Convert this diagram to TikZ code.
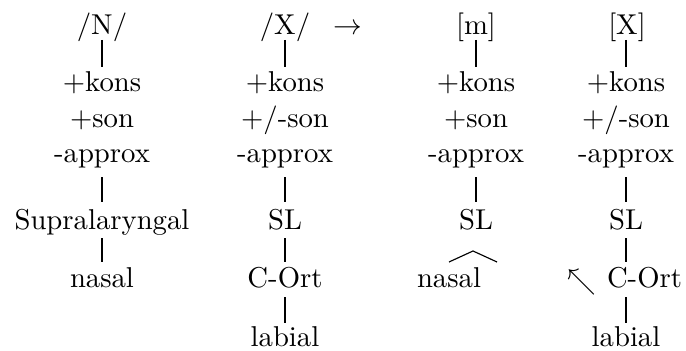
\documentclass[tikz,border=0pt]{standalone}
\begin{document}
\begin{tikzpicture}[x=0.3484pt,y=-0.3484pt,
  lbl/.style={inner sep=0pt,outer sep=0pt,anchor=base},
  edge/.style={line width=0.4pt}]
\useasboundingbox (0,0) rectangle (686,351);
% column 1
\node[lbl] (n1) at (102,35) {/N/};
\node[lbl] (k1) at (102,92) {+kons};
\node[lbl] (s1) at (102,127.5) {+son};
\node[lbl] (a1) at (102,163) {-approx};
\node[lbl] (sl1) at (102,230) {Supralaryngal};
\node[lbl] (na1) at (102,288) {nasal};
% column 2
\node[lbl] (n2) at (285,35) {/X/};
\node[lbl] (arr) at (348,35) {$\rightarrow$};
\node[lbl] (k2) at (285,92) {+kons};
\node[lbl] (s2) at (285,127.5) {+/-son};
\node[lbl] (a2) at (285,163) {-approx};
\node[lbl] (sl2) at (285,230) {SL};
\node[lbl] (co2) at (285,288) {C-Ort};
\node[lbl] (lab2) at (285,347) {labial};
% column 3
\node[lbl] (n3) at (476,35) {[m]};
\node[lbl] (k3) at (476,92) {+kons};
\node[lbl] (s3) at (476,127.5) {+son};
\node[lbl] (a3) at (476,163) {-approx};
\node[lbl] (sl3) at (476,230) {SL};
\node[lbl] (na3) at (449,288) {nasal};
\coordinate (r3l) at (449,262);
\coordinate (r3t) at (473,251);
\coordinate (r3r) at (497,262);
% column 4
\node[lbl] (n4) at (627,35) {[X]};
\node[lbl] (k4) at (626,92) {+kons};
\node[lbl] (s4) at (626,127.5) {+/-son};
\node[lbl] (a4) at (626,163) {-approx};
\node[lbl] (sl4) at (626,230) {SL};
\node[lbl,anchor=base west] (co4) at (607,288) {C-Ort};
\node[lbl] (nw4) at (582,290) {$\nwarrow$};
\node[lbl] (lab4) at (626,347) {labial};
% connectors
\tikzset{
  top/.style args={#1and#2}{},
}
\draw[edge] ([yshift=-1.74pt]n1.base) -- ([yshift=8.71pt]k1.base);
\draw[edge] ([yshift=-4.88pt]a1.base) -- ([yshift=9.76pt]sl1.base);
\draw[edge] ([yshift=-2.79pt]sl1.base) -- ([yshift=9.06pt]na1.base);
\draw[edge] ([yshift=-1.74pt]n2.base) -- ([yshift=8.71pt]k2.base);
\draw[edge] ([yshift=-4.88pt]a2.base) -- ([yshift=9.76pt]sl2.base);
\draw[edge] ([yshift=-2.79pt]sl2.base) -- ([yshift=9.06pt]co2.base);
\draw[edge] ([yshift=-3.14pt]co2.base) -- ([yshift=8.36pt]lab2.base);
\draw[edge] ([yshift=-1.74pt]n3.base) -- ([yshift=8.71pt]k3.base);
\draw[edge] ([yshift=-4.88pt]a3.base) -- ([yshift=9.76pt]sl3.base);
\draw[edge] (r3l) -- (r3t) -- (r3r);
\draw[edge] ([yshift=-1.74pt]n4.base -| sl4.base) -- ([yshift=8.71pt]k4.base);
\draw[edge] ([yshift=-4.88pt]a4.base) -- ([yshift=9.76pt]sl4.base);
\draw[edge] ([yshift=-2.79pt]sl4.base) -- ([yshift=9.06pt]co4.base -| sl4.base);
\draw[edge] ([yshift=-3.14pt]co4.base -| sl4.base) -- ([yshift=8.36pt]lab4.base);
\end{tikzpicture}
\end{document}
